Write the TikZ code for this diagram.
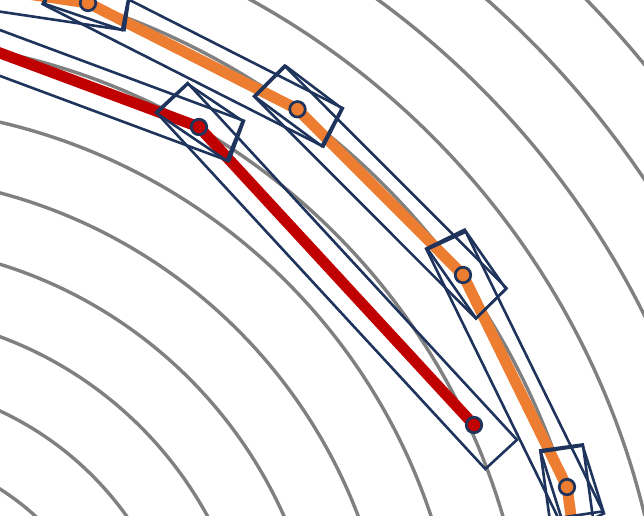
\documentclass[tikz,border=0pt]{standalone}
\usetikzlibrary{calc}
\definecolor{navy}{RGB}{31,52,92}
\definecolor{predred}{RGB}{192,0,0}
\definecolor{predorange}{RGB}{237,125,49}
\definecolor{arcgray}{RGB}{128,128,128}
\tikzset{
  arcline/.style={draw=arcgray, line width=3.4pt},
  boxline/.style={draw=navy, line width=2.6pt, line join=miter},
  redpath/.style={draw=predred, line width=11pt, line join=round},
  orangepath/.style={draw=predorange, line width=11pt, line join=round},
  dotmark/.style={circle, draw=navy, line width=2.7pt, minimum size=15.5pt, inner sep=0pt},
}
\newcommand\segbox[2]{%
  \coordinate (s1) at ($(#1)!-40pt!(#2)$);
  \coordinate (s2) at ($(#2)!-40pt!(#1)$);
  \draw[boxline] ($(s1)!21.5pt!90:(#2)$) -- ($(s1)!21.5pt!-90:(#2)$)
     -- ($(s2)!21.5pt!90:(#1)$) -- ($(s2)!21.5pt!-90:(#1)$) -- cycle;}
\begin{document}
\begin{tikzpicture}[x=1pt,y=-1pt]
\useasboundingbox (0,0) rectangle (644,515);
\clip (0,0) rectangle (644,515);
% concentric reference arcs
\coordinate (C) at (-135.7,703.4);
\foreach \k in {0,...,11}{%
  \pgfmathsetmacro\rr{253.7+68.6*\k}
  \draw[arcline] (C) circle[radius=\rr pt];}
% marker positions
\coordinate (o0) at (-144.4,-31.6);
\coordinate (o1) at (88,3);
\coordinate (o2) at (297.5,109.3);
\coordinate (o3) at (463,275);
\coordinate (o4) at (567,487);
\coordinate (o5) at (599.1,719.7);
\coordinate (r0) at (-180.6,-14.2);
\coordinate (r1) at (199,127);
\coordinate (r2) at (474,425);
% polylines
\draw[orangepath] (o0) -- (o1) -- (o2) -- (o3) -- (o4) -- (o5);
\draw[redpath] (r0) -- (r1) -- (r2);
% tangent boxes at markers
\draw[boxline] (45,4) -- (122,30) -- (130,-10) -- (53,-36) -- cycle;
\draw[boxline] (255,96.7) -- (285.7,66) -- (341.7,108.3) -- (321.7,146) -- cycle;
\draw[boxline] (156.7,113.3) -- (187.7,84) -- (242.7,121) -- (226.7,160.7) -- cycle;
\draw[boxline] (427.7,249.3) -- (466,231.7) -- (506,289) -- (476,318.3) -- cycle;
\draw[boxline] (540.7,452) -- (582.7,445.7) -- (603.3,511.3) -- (561.3,517.6) -- cycle;
% segment boxes
\segbox{o0}{o1}
\segbox{o1}{o2}
\segbox{o2}{o3}
\segbox{o3}{o4}
\segbox{o4}{o5}
\segbox{r0}{r1}
\segbox{r1}{r2}
% markers
\node[dotmark, fill=predorange] (mo1) at (o1) {};
\node[dotmark, fill=predorange] (mo2) at (o2) {};
\node[dotmark, fill=predorange] (mo3) at (o3) {};
\node[dotmark, fill=predorange] (mo4) at (o4) {};
\node[dotmark, fill=predred] (mr1) at (r1) {};
\node[dotmark, fill=predred] (mr2) at (r2) {};
\end{tikzpicture}
\end{document}
